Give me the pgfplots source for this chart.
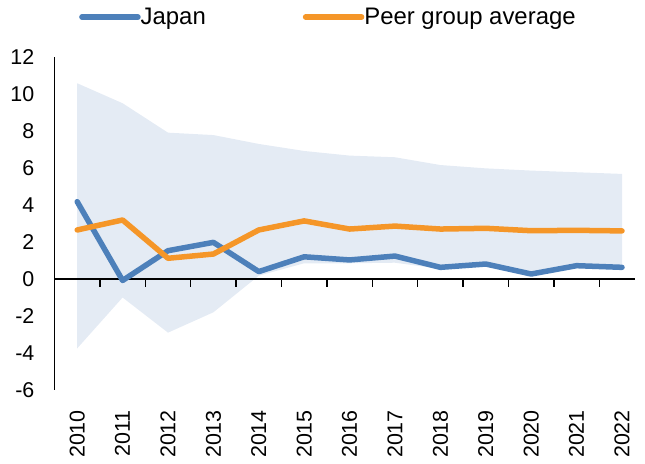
\documentclass[border=0pt]{standalone}
\usepackage{fontspec}
\setmainfont{Liberation Sans}
\usepackage{pgfplots}
\pgfplotsset{compat=1.18}
\usepgfplotslibrary{fillbetween}
\definecolor{japanblue}{RGB}{77,128,186}
\definecolor{peerorange}{RGB}{245,150,40}
\definecolor{bandgrey}{RGB}{228,235,244}

\begin{document}
\begin{tikzpicture}
\begin{axis}[
    at={(54.5bp,74bp)}, anchor=south west,
    scale only axis,
    width=590.2bp, height=333bp,
    xmin=-0.5, xmax=12.5,
    ymin=-6, ymax=12,
    ytick={-6,-4,...,12},
    xtick={0,...,12},
    xticklabels={2010,2011,2012,2013,2014,2015,2016,2017,2018,2019,2020,2021,2022},
    axis x line*=bottom,
    axis y line*=left,
    x axis line style={draw=none},
    y axis line style={line width=1.3bp},
    major tick length=0pt,
    /pgf/number format/assume math mode=true,
    tick label style={font=\fontsize{21.5}{24}\selectfont, inner sep=0pt},
    yticklabel shift=20bp,
    xticklabel style={rotate=90, anchor=east},
    xticklabel shift=20bp,
    legend style={
        at={(0.0415,1.12)}, anchor=west,
        draw=none, fill=none, inner sep=0pt,
        legend columns=2,
        font=\fontsize{24}{26}\selectfont,
        /tikz/every odd column/.style={column sep=0bp},
        /tikz/every even column/.style={column sep=97bp},
        nodes={inner sep=0pt}
    },
    legend image code/.code={
        \path (0bp,0bp) -- (56bp,0bp);
        \draw[#1, line width=5.5bp, line cap=round] (2.75bp,0bp) -- (53.25bp,0bp);
    },
]
% x = years since 2010
\addplot[name path=upper, draw=none, forget plot] coordinates {
    (0,10.58) (1,9.5) (2,7.91) (3,7.78) (4,7.3) (5,6.92)
    (6,6.67) (7,6.58) (8,6.16) (9,5.98) (10,5.86) (11,5.77) (12,5.68)
};
\addplot[name path=lower, draw=none, forget plot] coordinates {
    (0,-3.75) (1,-1.0) (2,-2.9) (3,-1.8) (4,0.18) (5,0.85)
    (6,0.85) (7,0.88) (8,0.55) (9,0.75) (10,0.2) (11,0.7) (12,0.6)
};
\addplot[fill=bandgrey, draw=none, forget plot] fill between[of=upper and lower];

% x axis drawn at zero, ticks between the years
\draw[line width=1.6bp] (axis cs:-0.5,0) -- (axis cs:12.28,0);
\pgfplotsinvokeforeach{0.5,1.5,...,11.5}{
    \draw[line width=1.3bp] (axis cs:#1,0) -- (axis cs:#1,-0.41);
}

\addplot[japanblue, line width=5.5bp, line join=round, line cap=round] coordinates {
    (0,4.18) (1,-0.08) (2,1.53) (3,1.98) (4,0.4) (5,1.2)
    (6,1.03) (7,1.24) (8,0.63) (9,0.81) (10,0.27) (11,0.72) (12,0.63)
};
\addplot[peerorange, line width=5.5bp, line join=round, line cap=round] coordinates {
    (0,2.65) (1,3.19) (2,1.12) (3,1.35) (4,2.65) (5,3.14)
    (6,2.7) (7,2.86) (8,2.7) (9,2.74) (10,2.61) (11,2.63) (12,2.6)
};
\legend{Japan, Peer group average}
\end{axis}
\pgfresetboundingbox
\useasboundingbox (0,0) rectangle (645bp,464bp);
\end{tikzpicture}
\end{document}
